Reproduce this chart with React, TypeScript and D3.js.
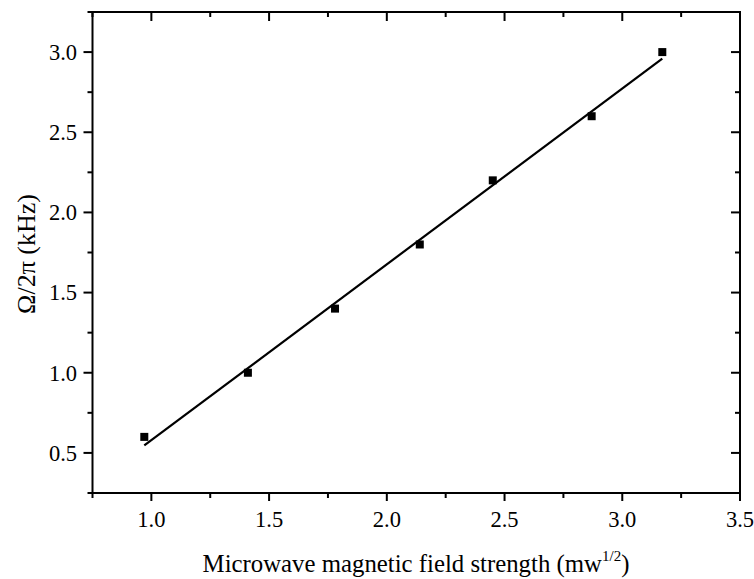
import React from "react";
import * as d3 from "d3";

const xValues = [0.97, 1.41, 1.78, 2.14, 2.45, 2.87, 3.17];
const yValues = [0.6, 1.0, 1.4, 1.8, 2.2, 2.6, 3.0];
const xTicks = [1.0, 1.5, 2.0, 2.5, 3.0, 3.5];
const yTicks = [0.5, 1.0, 1.5, 2.0, 2.5, 3.0];
const xMinor = [0.75, 1.25, 1.75, 2.25, 2.75, 3.25];
const yMinor = [0.25, 0.75, 1.25, 1.75, 2.25, 2.75, 3.25];

const W = 754, H = 579;
const L = 92.5, R = 740, T = 12, B = 493;
const FONT = '"Liberation Serif", "Times New Roman", Tinos, "DejaVu Serif", serif';
const txt: React.CSSProperties = { fontFamily: FONT };

export default function App() {
  const x = d3.scaleLinear().domain([0.75, 3.5]).range([L, R]);
  const y = d3.scaleLinear().domain([0.25, 3.25]).range([B, T]);

  const mx = d3.mean(xValues)!;
  const my = d3.mean(yValues)!;
  const sxy = d3.sum(xValues.map((v, i) => (v - mx) * (yValues[i] - my)));
  const sxx = d3.sum(xValues.map((v) => (v - mx) * (v - mx)));
  const slope = sxy / sxx;
  const icpt = my - slope * mx;
  const x0 = d3.min(xValues)!, x1 = d3.max(xValues)!;
  const fit = d3.line<number>().x((v) => x(v)).y((v) => y(icpt + slope * v))([x0, x1]);

  const sq = 8;
  const sw = 2;
  return (
    <svg width={W} height={H} style={{ position: "absolute", left: 0, top: 0, background: "#fff" }}>
      <rect x={0} y={0} width={W} height={H} fill="#fff" />
      <rect x={L} y={T} width={R - L} height={B - T} fill="none" stroke="#000" strokeWidth={sw} />
      {xTicks.map((t) => (
        <g key={"xt" + t}>
          <line x1={x(t)} x2={x(t)} y1={B} y2={B + 8} stroke="#000" strokeWidth={sw} />
          <line x1={x(t)} x2={x(t)} y1={T} y2={T + 9} stroke="#000" strokeWidth={sw} />
          <text x={x(t)} y={527} textAnchor="middle" style={txt} fontSize={22.5} fill="#000">
            {t.toFixed(1)}
          </text>
        </g>
      ))}
      {xMinor.map((t) => (
        <g key={"xm" + t}>
          <line x1={x(t)} x2={x(t)} y1={B} y2={B + 5} stroke="#000" strokeWidth={sw} />
          <line x1={x(t)} x2={x(t)} y1={T} y2={T + 5} stroke="#000" strokeWidth={sw} />
        </g>
      ))}
      {yTicks.map((t) => (
        <g key={"yt" + t}>
          <line x1={L} x2={L - 9} y1={y(t)} y2={y(t)} stroke="#000" strokeWidth={sw} />
          <line x1={R} x2={R - 9} y1={y(t)} y2={y(t)} stroke="#000" strokeWidth={sw} />
          <text x={77} y={y(t)} dy="0.35em" textAnchor="end" style={txt} fontSize={22.5} fill="#000">
            {t.toFixed(1)}
          </text>
        </g>
      ))}
      {yMinor.map((t) => (
        <g key={"ym" + t}>
          <line x1={L} x2={L - 5} y1={y(t)} y2={y(t)} stroke="#000" strokeWidth={sw} />
          <line x1={R} x2={R - 5} y1={y(t)} y2={y(t)} stroke="#000" strokeWidth={sw} />
        </g>
      ))}
      <path d={fit ?? ""} fill="none" stroke="#000" strokeWidth={2.2} />
      {xValues.map((v, i) => (
        <rect key={"p" + i} x={x(v) - sq / 2} y={y(yValues[i]) - sq / 2} width={sq} height={sq} fill="#000" />
      ))}
      <text x={416} y={572} textAnchor="middle" style={txt} fontSize={24.8} fill="#000">
        Microwave magnetic field strength (mw
        <tspan dy={-11} fontSize={15}>1/2</tspan>
        <tspan dy={11}>)</tspan>
      </text>
      <text transform={`translate(35, 254) rotate(-90)`} textAnchor="middle" style={txt} fontSize={26} fill="#000">
        Ω/2π (kHz)
      </text>
    </svg>
  );
}
